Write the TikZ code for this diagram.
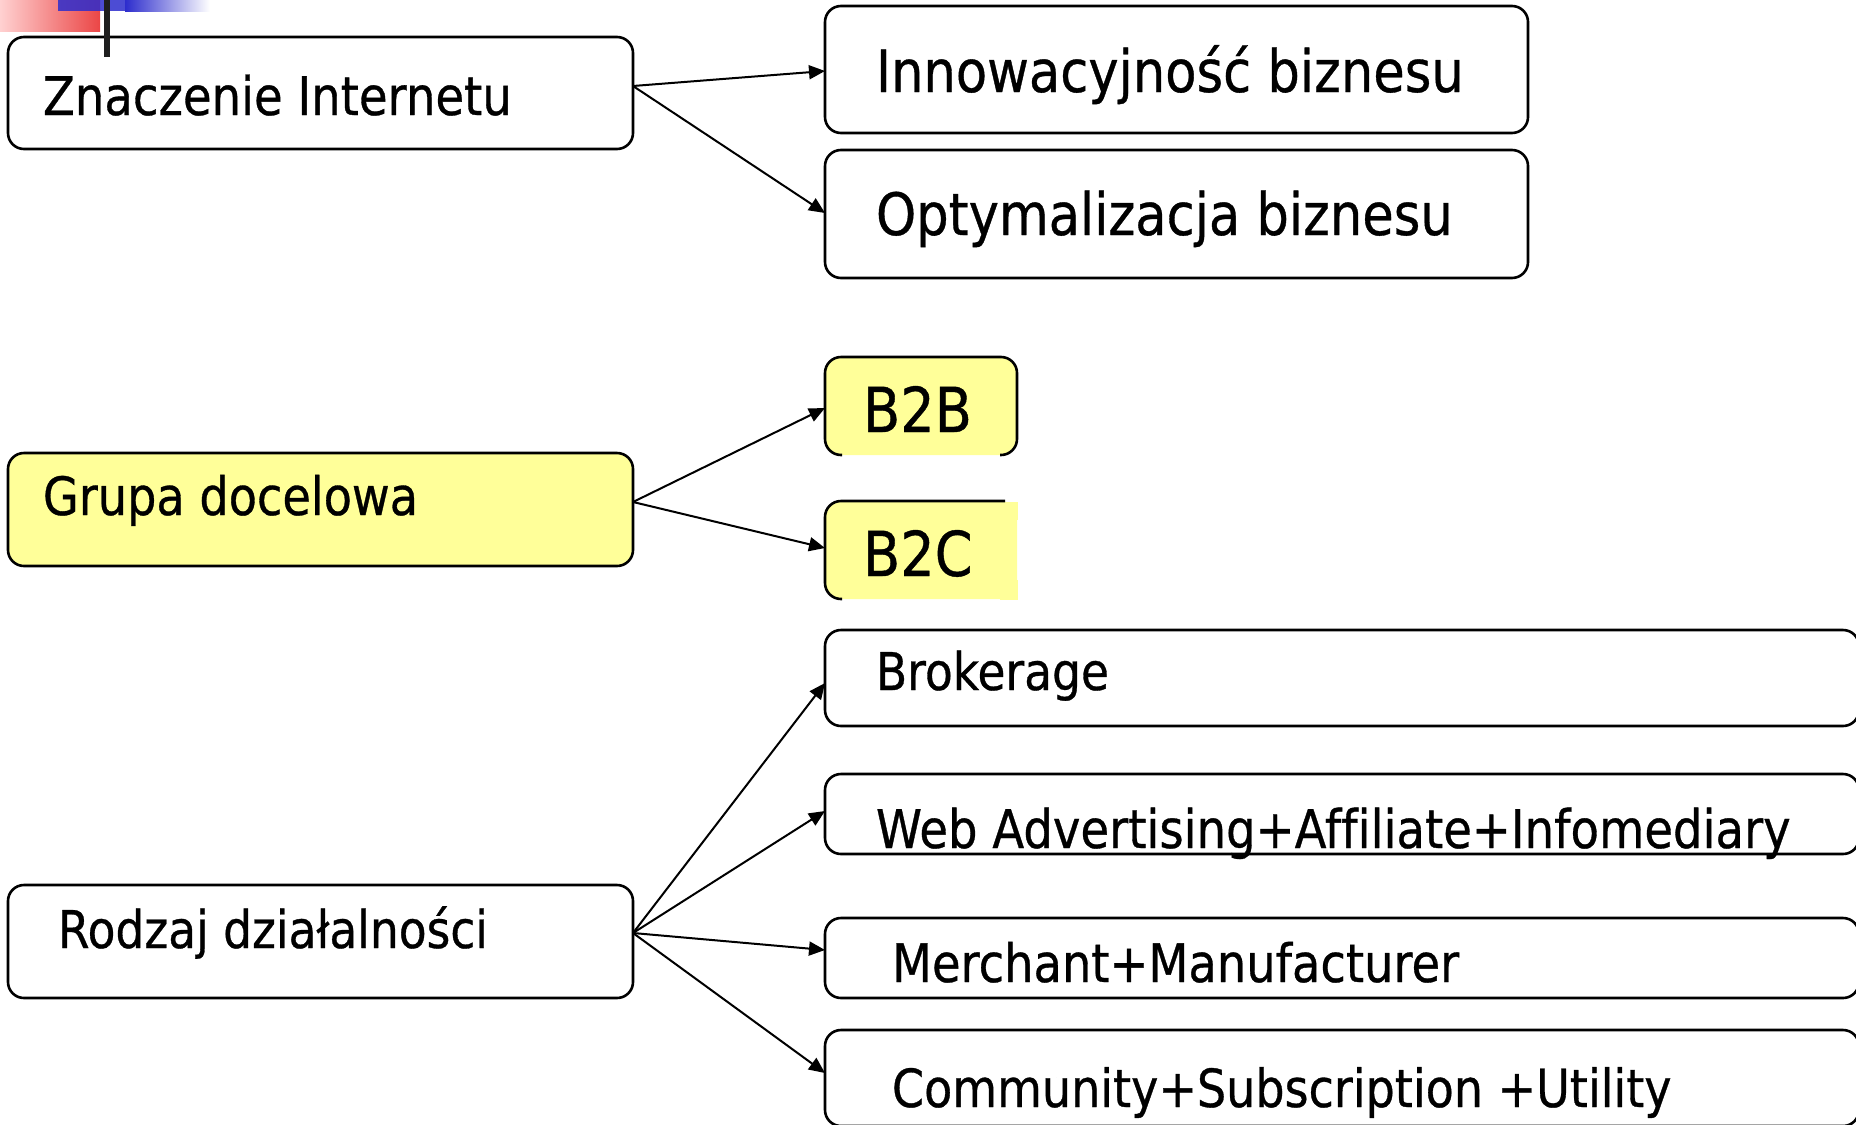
\documentclass[tikz,border=0pt]{standalone}
\usepackage{fontspec}
\setmainfont{DejaVu Sans}[FakeStretch=0.875, FakeBold=0.6, Ligatures=CommonOff]
\usetikzlibrary{arrows.meta}
\definecolor{boxyellow}{RGB}{255,255,153}
\definecolor{decored}{RGB}{235,70,70}
\definecolor{decoblue}{RGB}{45,45,205}
\tikzset{
  bx/.style={draw, line width=1.3pt, rounded corners=8pt, inner ysep=0pt, outer sep=0pt, anchor=north west},
  ybx/.style={bx, fill=boxyellow},
  ybxnoline/.style={fill=boxyellow, rounded corners=8pt, inner ysep=0pt, outer sep=0pt, anchor=north west},
  arr/.style={line width=1pt, -{Triangle[length=8pt,width=7pt]}},
  part/.style={line width=1.3pt, rounded corners=8pt}
}
\newcommand{\fs}[1]{\fontsize{#1}{1.2\dimexpr#1\relax}\selectfont}
\begin{document}
\begin{tikzpicture}[x=0.5pt,y=-0.5pt]
\useasboundingbox (0,0) rectangle (1856,1124);

% decoration top-left
\shade[left color=red!18, right color=decored] (0,0) rectangle (100,31);
\fill[decoblue, fill opacity=0.85] (58,0) rectangle (125,11);
\shade[left color=decoblue, right color=white] (125,0) rectangle (210,11);

% boxes
\node[bx, inner xsep=17.5pt, text height=39pt, text depth=17pt] (znacz) at (8,37)
  {\makebox[277.5pt][l]{\fs{26.6pt}Znaczenie Internetu}};
\node[bx, inner xsep=25.5pt, text height=43pt, text depth=20.5pt] (innow) at (825,6)
  {\makebox[300.5pt][l]{\fs{29.2pt}Innowacyjność biznesu}};
\node[bx, inner xsep=25.5pt, text height=42.5pt, text depth=21.5pt] (optym) at (825,150)
  {\makebox[300.5pt][l]{\fs{29.2pt}Optymalizacja biznesu}};

\node[ybx, inner xsep=17.5pt, text height=31pt, text depth=25.5pt] (grupa) at (8,453)
  {\makebox[277.5pt][l]{\fs{26.4pt}Grupa docelowa}};

% B2B / B2C (fill, then partial borders as in the original)
\node[ybxnoline, inner xsep=19pt, text height=37.5pt, text depth=11.5pt] (b2b) at (825,357)
  {\makebox[58pt][l]{\fs{31pt}B2B}};
\draw[part] (1000,455) -- (1017,455) -- (1017,357) -- (825,357) -- (825,455) -- (842,455);

\node[ybxnoline, inner xsep=19pt, text height=37.5pt, text depth=11.5pt] (b2c) at (825,501)
  {\makebox[58pt][l]{\fs{31pt}B2C}};
\fill[boxyellow] (1000,502) rectangle (1018,520);
\fill[boxyellow] (1000,580) rectangle (1018,600);
\draw[part] (1005,501) -- (825,501) -- (825,599) -- (842,599);

\node[bx, inner xsep=25pt, text height=31.5pt, text depth=25pt] (rodzaj) at (8,885)
  {\makebox[262.5pt][l]{\fs{26pt}Rodzaj działalności}};

\node[bx, inner xsep=25.5pt, text height=30pt, text depth=18pt] (broker) at (825,630)
  {\makebox[466pt][l]{\fs{26pt}Brokerage}};
\node[bx, inner xsep=25.5pt, text height=37pt, text depth=3pt] (web) at (825,774)
  {\makebox[466pt][l]{\fs{26.6pt}Web Advertising+Affiliate+Infomediary}};
\node[bx, inner xsep=33.5pt, text height=32pt, text depth=8pt] (merch) at (825,918)
  {\makebox[450pt][l]{\fs{26.5pt}Merchant+Manufacturer}};
\node[bx, inner xsep=33.5pt, text height=38.5pt, text depth=9.5pt] (commun) at (825,1030)
  {\makebox[450pt][l]{\fs{26.3pt}Community+Subscription +Utility}};

% connectors
\draw[arr] ([yshift=3.5pt]znacz.east) -- ([yshift=-0.75pt]innow.west);
\draw[arr] ([yshift=3.5pt]znacz.east) -- ([yshift=0.5pt]optym.west);
\draw[arr] ([yshift=3.75pt]grupa.east) -- ([yshift=-1pt]b2b.west);
\draw[arr] ([yshift=3.75pt]grupa.east) -- ([yshift=1pt]b2c.west);
\draw[arr] ([yshift=4.25pt]rodzaj.east) -- ([yshift=-2.5pt]broker.west);
\draw[arr] ([yshift=4.25pt]rodzaj.east) -- ([yshift=1.5pt]web.west);
\draw[arr] ([yshift=4.25pt]rodzaj.east) -- ([yshift=4pt]merch.west);
\draw[arr] ([yshift=4.25pt]rodzaj.east) -- ([yshift=2.5pt]commun.west);

% black vertical bar of the decoration
\fill[black!88] (104,0) rectangle (110,57);
\end{tikzpicture}
\end{document}
